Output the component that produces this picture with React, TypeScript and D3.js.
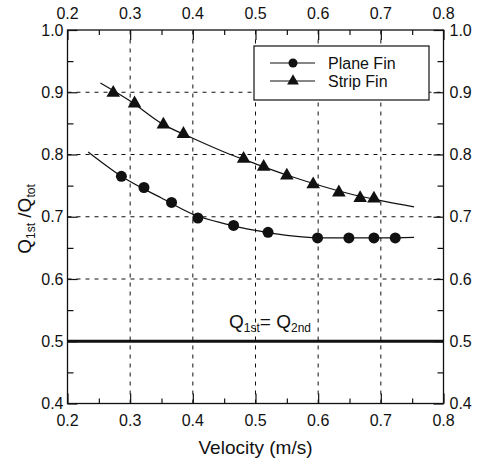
import React, { useEffect, useRef } from 'react';
import * as d3 from 'd3';

// measured points
const planeX = [0.286, 0.322, 0.366, 0.408, 0.465, 0.52, 0.599, 0.649, 0.689, 0.723];
const planeY = [0.765, 0.747, 0.723, 0.698, 0.686, 0.675, 0.666, 0.666, 0.666, 0.666];
const stripX = [0.273, 0.307, 0.353, 0.385, 0.481, 0.513, 0.55, 0.592, 0.633, 0.667, 0.689];
const stripY = [0.899, 0.882, 0.848, 0.833, 0.793, 0.78, 0.766, 0.752, 0.739, 0.73, 0.729];

// fitted curves as drawn
const planeFitX = [0.233, 0.286, 0.35, 0.4, 0.45, 0.5, 0.55, 0.6, 0.65, 0.7, 0.753];
const planeFitY = [0.804, 0.765, 0.73, 0.704, 0.689, 0.678, 0.67, 0.666, 0.666, 0.666, 0.667];
const stripFitX = [0.2525, 0.3, 0.35, 0.4, 0.45, 0.5, 0.55, 0.6, 0.65, 0.7, 0.753];
const stripFitY = [0.915, 0.886, 0.85, 0.826, 0.804, 0.785, 0.767, 0.751, 0.737, 0.726, 0.716];

const xTicks = [0.2, 0.3, 0.4, 0.5, 0.6, 0.7, 0.8];
const yTicks = [0.4, 0.5, 0.6, 0.7, 0.8, 0.9, 1.0];
const xGrid = [0.3, 0.4, 0.5, 0.6, 0.7];
const yGrid = [0.6, 0.7, 0.8, 0.9];
const equalLine = 0.5;
const legendNames = ['Plane Fin', 'Strip Fin'];

const W = 481;
const H = 461;
const ink = '#111';
const font = "'Liberation Sans', Arial, sans-serif";

const App = () => {
  const svgRef = useRef<SVGSVGElement>(null);

  useEffect(() => {
    const svg = d3.select(svgRef.current);
    svg.selectAll('*').remove();

    const x = d3.scaleLinear().domain([0.2, 0.8]).range([67.5, 443.5]);
    const y = d3.scaleLinear().domain([0.4, 1.0]).range([403.5, 30]);
    const [x0, x1] = x.range();
    const [y0, y1] = y.range();

    svg.append('rect').attr('width', W).attr('height', H).attr('fill', '#fff');

    // dashed grid
    const grid = svg.append('g').attr('stroke', ink).attr('stroke-width', 1).attr('stroke-dasharray', '4,5');
    xGrid.forEach(v => {
      grid.append('line').attr('x1', x(v)).attr('x2', x(v)).attr('y1', y0).attr('y2', y1);
    });
    yGrid.forEach(v => {
      grid.append('line').attr('x1', x0).attr('x2', x1).attr('y1', y(v)).attr('y2', y(v));
    });

    // ticks, pointing inward
    const minorX = d3.range(0.25, 0.8, 0.1);
    const minorY = d3.range(0.45, 1.0, 0.1);
    const blank = () => '';
    const tickGroup = (axis: any, tx: number, ty: number) => {
      const g = svg.append('g').attr('transform', `translate(${tx},${ty})`).call(axis);
      g.select('.domain').remove();
      g.selectAll('line').attr('stroke', ink).attr('stroke-width', 1.2);
    };
    tickGroup(d3.axisBottom(x).tickValues(xTicks).tickSize(-10).tickFormat(blank), 0, y0);
    tickGroup(d3.axisBottom(x).tickValues(minorX).tickSize(-5).tickFormat(blank), 0, y0);
    tickGroup(d3.axisTop(x).tickValues(xTicks).tickSize(-10).tickFormat(blank), 0, y1);
    tickGroup(d3.axisTop(x).tickValues(minorX).tickSize(-5).tickFormat(blank), 0, y1);
    tickGroup(d3.axisLeft(y).tickValues(yTicks).tickSize(-10).tickFormat(blank), x0, 0);
    tickGroup(d3.axisLeft(y).tickValues(minorY).tickSize(-6).tickFormat(blank), x0, 0);
    tickGroup(d3.axisRight(y).tickValues(yTicks).tickSize(-10).tickFormat(blank), x1, 0);
    tickGroup(d3.axisRight(y).tickValues(minorY).tickSize(-6).tickFormat(blank), x1, 0);

    // Q1st = Q2nd line
    svg.append('line')
      .attr('x1', x0).attr('x2', x1).attr('y1', y(equalLine)).attr('y2', y(equalLine))
      .attr('stroke', ink).attr('stroke-width', 3);

    // frame
    svg.append('rect')
      .attr('x', x0).attr('y', y1).attr('width', x1 - x0).attr('height', y0 - y1)
      .attr('fill', 'none').attr('stroke', ink).attr('stroke-width', 1.3);

    // tick labels
    const labels = svg.append('g').attr('font-family', font).attr('font-size', 16).attr('fill', ink);
    const fmt = d3.format('.1f');
    xTicks.forEach(v => {
      labels.append('text').attr('x', x(v)).attr('y', y0 + 22.5).attr('text-anchor', 'middle').text(fmt(v));
      labels.append('text').attr('x', x(v)).attr('y', y1 - 11).attr('text-anchor', 'middle').text(fmt(v));
    });
    yTicks.forEach(v => {
      labels.append('text').attr('x', x0 - 4).attr('y', y(v) + 5.5).attr('text-anchor', 'end').text(fmt(v));
      labels.append('text').attr('x', x1 + 6).attr('y', y(v) + 5.5).attr('text-anchor', 'start').text(fmt(v));
    });

    // fit curves
    const path = d3.line().curve(d3.curveMonotoneX);
    const planeFit = planeFitX.map((v, i) => [x(v), y(planeFitY[i])] as [number, number]);
    const stripFit = stripFitX.map((v, i) => [x(v), y(stripFitY[i])] as [number, number]);
    svg.append('path').attr('d', path(planeFit)).attr('fill', 'none').attr('stroke', ink).attr('stroke-width', 1.2);
    svg.append('path').attr('d', path(stripFit)).attr('fill', 'none').attr('stroke', ink).attr('stroke-width', 1.2);

    const tri = d3.symbol().type(d3.symbolTriangle).size(80);

    planeX.forEach((v, i) => {
      svg.append('circle').attr('cx', x(v)).attr('cy', y(planeY[i])).attr('r', 5.5).attr('fill', ink);
    });
    stripX.forEach((v, i) => {
      svg.append('path').attr('d', tri()).attr('transform', `translate(${x(v)},${y(stripY[i])})`).attr('fill', ink);
    });

    // legend
    const lg = svg.append('g');
    lg.append('rect').attr('x', 254).attr('y', 46).attr('width', 175).attr('height', 54)
      .attr('fill', '#fff').attr('stroke', ink).attr('stroke-width', 1.2);
    legendNames.forEach((name, i) => {
      const ly = 63 + i * 18;
      lg.append('line').attr('x1', 270).attr('x2', 315).attr('y1', ly).attr('y2', ly).attr('stroke', ink).attr('stroke-width', 1.2);
      if (i === 0) {
        lg.append('circle').attr('cx', 293).attr('cy', ly).attr('r', 4.5).attr('fill', ink);
      } else {
        lg.append('path').attr('d', d3.symbol().type(d3.symbolTriangle).size(60)()).attr('transform', `translate(293,${ly})`).attr('fill', ink);
      }
      lg.append('text').attr('x', 328).attr('y', ly + 6).attr('font-family', font).attr('font-size', 16).attr('fill', ink).text(name);
    });

    // axis titles
    svg.append('text').attr('x', (x0 + x1) / 2).attr('y', 454).attr('text-anchor', 'middle')
      .attr('font-family', font).attr('font-size', 19).attr('fill', ink).text('Velocity (m/s)');

    const yt = svg.append('text').attr('transform', `translate(31,219) rotate(-90)`)
      .attr('text-anchor', 'middle').attr('font-family', font).attr('font-size', 19).attr('fill', ink);
    yt.append('tspan').text('Q');
    yt.append('tspan').attr('font-size', 12).attr('dy', 4).text('1st');
    yt.append('tspan').attr('dy', -4).text(' /Q');
    yt.append('tspan').attr('font-size', 12).attr('dy', 4).text('tot');

    const eq = svg.append('text').attr('x', 229).attr('y', 328).attr('font-family', font).attr('font-size', 19).attr('fill', ink);
    eq.append('tspan').text('Q');
    eq.append('tspan').attr('font-size', 12).attr('dy', 4).text('1st');
    eq.append('tspan').attr('dy', -4).text('= Q');
    eq.append('tspan').attr('font-size', 12).attr('dy', 4).text('2nd');
  }, []);

  return (
    <svg
      ref={svgRef}
      width={W}
      height={H}
      style={{ position: 'absolute', left: 0, top: 0, display: 'block' }}
    />
  );
};

export default App;
